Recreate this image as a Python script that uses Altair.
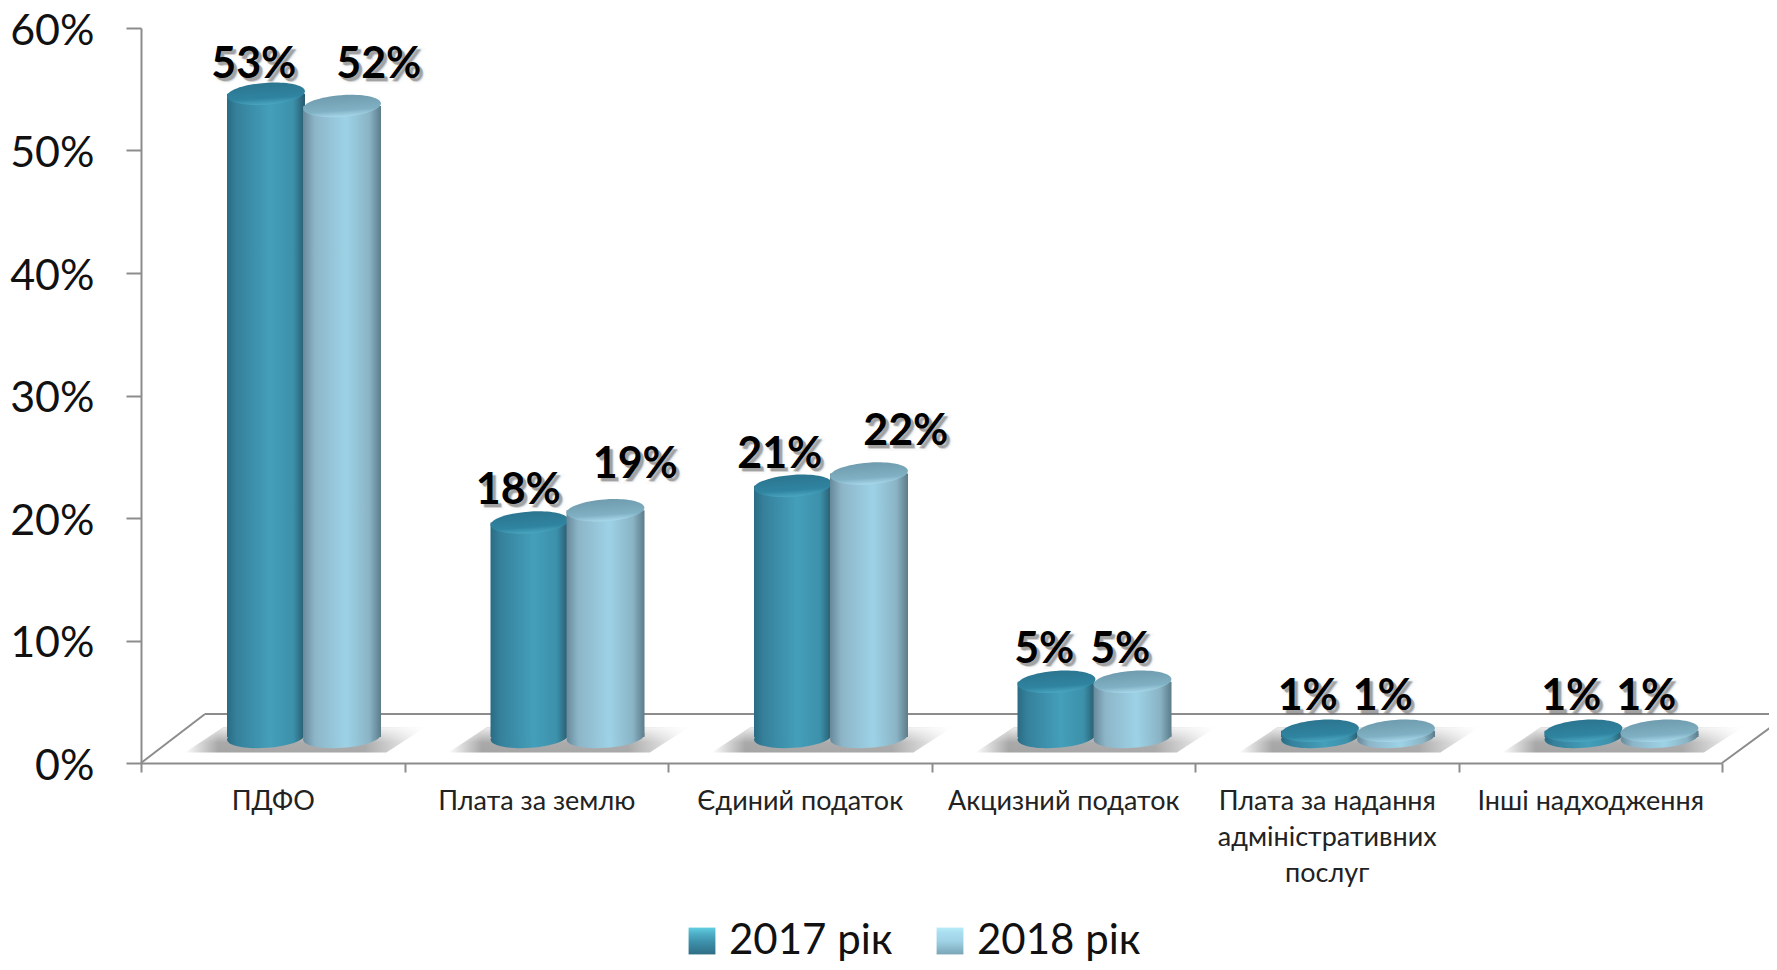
import altair as alt
import pandas as pd

categories = ["ПДФО", "Плата за землю", "Єдиний податок", "Акцизний податок",
              "Плата за надання адміністративних послуг", "Інші надходження"]
series = ["2017 рік", "2018 рік"]
values_2017 = [53, 18, 21, 5, 1, 1]
values_2018 = [52, 19, 22, 5, 1, 1]
labels_2017 = ["53%", "18%", "21%", "5%", "1%", "1%"]
labels_2018 = ["52%", "19%", "22%", "5%", "1%", "1%"]
y_ticks = [0, 10, 20, 30, 40, 50, 60]

FONT = "Lato"
GRAY = "#8c8c8c"
LIFT = 1.63   # the 3D floor lifts the columns above the axis baseline
W, H = 1581, 735
BAR = 78

rows = []
for i, c in enumerate(categories):
    rows.append(dict(cat=c, series=series[0], value=values_2017[i], label=labels_2017[i], key=f"a{i}"))
    rows.append(dict(cat=c, series=series[1], value=values_2018[i], label=labels_2018[i], key=f"b{i}"))
df = pd.DataFrame(rows)
df["top"] = df["value"] + LIFT
df["base"] = 0.5 + LIFT
df["floor"] = 1.87

def grad(stops, horizontal=True):
    return alt.Gradient(
        gradient="linear",
        stops=[alt.GradientStop(offset=o, color=c) for o, c in stops],
        x1=0, y1=0, x2=1 if horizontal else 0, y2=0 if horizontal else 1)

body = {
    series[0]: grad([(0, "#2a6b83"), (0.12, "#35809b"), (0.55, "#449fba"), (0.85, "#3c90aa"), (1, "#28596c")]),
    series[1]: grad([(0, "#67899a"), (0.15, "#8db5c8"), (0.55, "#9dd2e6"), (0.85, "#8ab4c5"), (1, "#5c7c8a")]),
}
cap = {
    series[0]: grad([(0, "#2c7590"), (0.7, "#2f84a0"), (1, "#4aa6c0")], False),
    series[1]: grad([(0, "#6f9cae"), (0.7, "#80b0c3"), (1, "#a8d8ea")], False),
}
offset = {series[0]: -6.75, series[1]: 69.25}

ELLIPSE = ("M-1,0 C-1,-0.155 -0.552,-0.28 0,-0.28 C0.552,-0.28 1,-0.155 1,0 "
           "C1,0.155 0.552,0.28 0,0.28 C-0.552,0.28 -1,0.155 -1,0 Z")
SHADOW = "M-1,0.104 L-0.68,-0.104 L1,-0.104 L0.68,0.104 Z"

x = alt.X("cat:N", sort=categories, title=None,
          scale=alt.Scale(domain=categories, paddingInner=0, paddingOuter=0, round=False),
          axis=alt.Axis(labelAngle=0, labelFont=FONT, labelFontSize=27, labelColor="#222222",
                        labelLineHeight=36, labelPadding=16, labelLimit=300,
                        domainColor=GRAY, domainWidth=2, tickColor=GRAY, tickWidth=2, tickSize=9,
                        tickBand="extent", grid=False,
                        labelExpr="datum.label == 'Плата за надання адміністративних послуг' ? "
                                  "['Плата за надання','адміністративних','послуг'] : datum.label"))
yscale = alt.Scale(domain=[0, 60], nice=False)
yaxis = alt.Axis(values=y_ticks, format="d", labelExpr="datum.label + '%'", labelFont=FONT,
                 labelFontSize=43, labelColor="#111111", labelPadding=32, labelOffset=3,
                 domainColor=GRAY, domainWidth=2, tickColor=GRAY, tickWidth=2, tickSize=15,
                 grid=False)

def Y(field):
    return alt.Y(f"{field}:Q", title=None, scale=yscale, axis=yaxis)

base = alt.Chart(df)

layers = []
# axes
layers.append(base.mark_point(opacity=0).encode(x=x, y=Y("top")))

# 3D floor: back edge and the two side edges
edge = alt.Chart(pd.DataFrame({"edge": ["back"]}))
layers.append(edge.mark_rule(color=GRAY, strokeWidth=2).encode(
    x=alt.value(64), x2=alt.value(W + 60), y=alt.value(686)))
layers.append(edge.mark_rule(color=GRAY, strokeWidth=2).encode(
    x=alt.value(0), x2=alt.value(64), y=alt.value(735), y2=alt.value(686)))
layers.append(edge.mark_rule(color=GRAY, strokeWidth=2).encode(
    x=alt.value(W), x2=alt.value(W + 60), y=alt.value(735), y2=alt.value(691)))

# floor shadows
shadow_h = grad([(0, "#ffffff"), (0.14, "#a0a0a0"), (0.75, "#a4a4a4"), (1, "#ffffff")])
shadow_v = grad([(0, "rgba(255,255,255,0.8)"), (0.6, "rgba(255,255,255,0.1)"), (1, "rgba(255,255,255,0.05)")], False)
one = base.transform_filter(alt.datum.series == series[0])
for g in (shadow_h, shadow_v):
    layers.append(one.mark_point(shape=SHADOW, size=240 ** 2, fill=g, filled=True, opacity=1,
                                 strokeOpacity=0, xOffset=32)
                  .encode(x=x, y=Y("floor")))

# columns
for s in series:
    d = base.transform_filter(alt.datum.series == s)
    layers.append(d.mark_point(shape=ELLIPSE, size=BAR ** 2, fill=body[s], filled=True, opacity=1,
                               strokeOpacity=0, angle=356, xOffset=offset[s])
                  .encode(x=x, y=Y("base")))
    layers.append(d.mark_bar(fill=body[s], width=BAR, xOffset=offset[s])
                  .encode(x=x, y=Y("top"), y2="base:Q"))
    layers.append(d.mark_point(shape=ELLIPSE, size=BAR ** 2, fill=cap[s], filled=True, opacity=1,
                               strokeOpacity=0, angle=356, xOffset=offset[s])
                  .encode(x=x, y=Y("top")))

# data labels with a soft drop shadow
nudge = {"a0": (-19, -29), "b0": (106, -41), "a1": (-18, -32), "b1": (99, -45),
         "a2": (-20, -31), "b2": (106, -42), "a3": (-19, -32), "b3": (57, -32),
         "a4": (-19, -34), "b4": (56, -34), "a5": (-19, -34), "b5": (56, -34)}
for k, (dx, dy) in nudge.items():
    d = base.transform_filter(alt.datum.key == k)
    for ox, oy, col, op, sw in [(4, 4, "#000000", 0.14, 4), (3, 3, "#000000", 0.25, 1), (0, 0, "#000000", 1, 0)]:
        mk = dict(font=FONT, fontSize=43, fontWeight="bold", baseline="middle", align="center",
                  dx=dx + ox, dy=dy + oy, color=col, opacity=op)
        if sw:
            mk.update(stroke=col, strokeWidth=sw, strokeOpacity=op)
        layers.append(d.mark_text(**mk).encode(x=x, y=Y("top"), text="label:N"))

# legend, drawn by the library from its own colour scale
bevel = ("{gradient:'linear',x1:0,y1:0,x2:0,y2:1,stops:["
         "{offset:0,color:'%s'},{offset:0.22,color:'%s'},{offset:0.5,color:'%s'},{offset:1,color:'%s'}]}")
legend_range = [
    {"expr": bevel % ("#63cfe2", "#4fb0c8", "#3f93ae", "#2f6d84")},
    {"expr": bevel % ("#b6ecf8", "#a8dcee", "#a0d3e6", "#7aa5b6")},
]
layers.append(base.mark_point(size=0, filled=True, opacity=1).encode(
    x=x, y=Y("top"),
    color=alt.Color("series:N", title=None, sort=series,
                    scale=alt.Scale(domain=series, range=legend_range),
                    legend=alt.Legend(orient="none", legendX=540, legendY=892, direction="horizontal",
                                      symbolType="square", symbolSize=720, symbolStrokeWidth=0,
                                      symbolOpacity=1, labelFont=FONT, labelFontSize=42, labelColor="#111111",
                                      labelOffset=6, columnPadding=36, labelLimit=300))))

chart = (alt.layer(*layers)
         .properties(width=W, height=H, padding={"left": 133, "top": 20, "right": 47, "bottom": 199},
                     autosize=alt.AutoSizeParams(type="none"))
         .configure(background="white", view=alt.ViewConfig(stroke=None)))

chart.save("out.html", embed_options={"renderer": "svg", "actions": False})
